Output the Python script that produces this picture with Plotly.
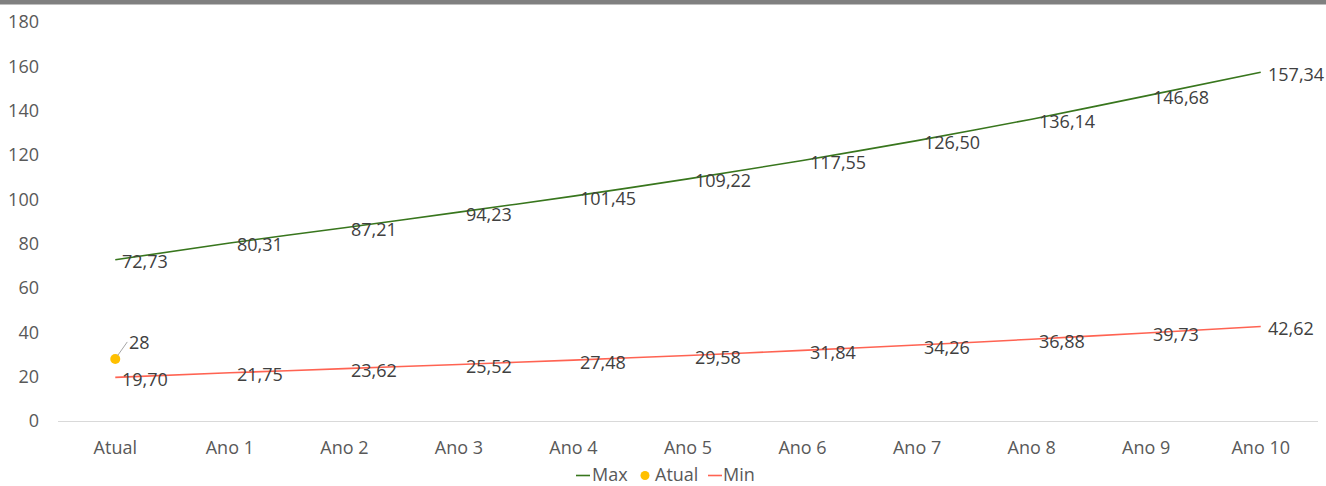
import plotly.graph_objects as go

categories = ["Atual", "Ano 1", "Ano 2", "Ano 3", "Ano 4", "Ano 5",
              "Ano 6", "Ano 7", "Ano 8", "Ano 9", "Ano 10"]
max_values = [72.73, 80.31, 87.21, 94.23, 101.45, 109.22,
              117.55, 126.50, 136.14, 146.68, 157.34]
min_values = [19.70, 21.75, 23.62, 25.52, 27.48, 29.58,
              31.84, 34.26, 36.88, 39.73, 42.62]
atual_value = [28]
y_ticks = [0, 20, 40, 60, 80, 100, 120, 140, 160, 180]

FONT = "Open Sans"
FS = 18
TEXT = "#404040"
AXIS_TEXT = "#595959"
MAX_COLOR = "#38761d"
MIN_COLOR = "#ff6352"
ATUAL_COLOR = "#ffc000"

# plot area geometry in pixels (used for the legend row below the axis)
L, R, T, B, W, H = 58, 8, 22, 65, 1326, 486
PW, PH = W - L - R, H - T - B


def px_x(p):
    return (p - L) / PW


def px_y(p):
    return (H - B - p) / PH


def br(v):
    return f"{v:.2f}".replace(".", ",")


fig = go.Figure()

fig.add_trace(go.Scatter(
    x=categories, y=max_values, name="Max", mode="lines",
    line=dict(color=MAX_COLOR, width=1.6, shape="spline", smoothing=0.5),
    cliponaxis=False, showlegend=False,
))
fig.add_trace(go.Scatter(
    x=categories[:1], y=atual_value, name="Atual",
    mode="markers", marker=dict(color=ATUAL_COLOR, size=10),
    cliponaxis=False, showlegend=False,
))
fig.add_trace(go.Scatter(
    x=categories, y=min_values, name="Min", mode="lines",
    line=dict(color=MIN_COLOR, width=1.6, shape="spline", smoothing=0.5),
    cliponaxis=False, showlegend=False,
))

# data labels to the right of each point
for series in (max_values, min_values):
    for cat, val in zip(categories, series):
        fig.add_annotation(
            x=cat, y=val, text=br(val), xref="x", yref="y", showarrow=False,
            xanchor="left", yanchor="middle", xshift=5, yshift=-1.5,
            font=dict(family=FONT, size=FS, color=TEXT),
        )

# label for the current value with a leader line
fig.add_annotation(
    x=categories[0], y=atual_value[0], text=str(atual_value[0]),
    xref="x", yref="y", showarrow=True, arrowhead=0, arrowwidth=1,
    arrowcolor="#a6a6a6", ax=12, ay=-17, xanchor="left", yanchor="middle",
    standoff=4, font=dict(family=FONT, size=FS, color=TEXT),
)

# legend row: short line keys, a dot key and the series names
key_y = 475.5
ly = px_y(key_y)
for x0, x1, color in ((576, 590, MAX_COLOR), (708, 722, MIN_COLOR)):
    fig.add_shape(type="line", xref="paper", yref="paper",
                  x0=px_x(x0), x1=px_x(x1), y0=ly, y1=ly,
                  line=dict(color=color, width=1.6))
fig.add_shape(type="circle", xref="paper", yref="paper",
              x0=px_x(640.5), x1=px_x(649.5), y0=px_y(key_y + 4.5), y1=px_y(key_y - 4.5),
              fillcolor=ATUAL_COLOR, line=dict(width=0))
for left, name in ((590, "Max"), (653, "Atual"), (721, "Min")):
    fig.add_annotation(
        text=name, xref="paper", yref="paper", x=px_x(left), y=px_y(473.5),
        xanchor="left", yanchor="middle", showarrow=False,
        font=dict(family=FONT, size=FS, color=AXIS_TEXT),
    )

# thin grey band across the top edge
fig.add_shape(type="rect", xref="paper", yref="paper",
              x0=-0.06, x1=1.02, y0=px_y(4.5), y1=1.07,
              fillcolor="#808080", line=dict(width=0), layer="above")

fig.update_layout(
    width=W, height=H,
    margin=dict(l=L, r=R, t=T, b=B),
    paper_bgcolor="white", plot_bgcolor="white",
    font=dict(family=FONT, size=FS, color=AXIS_TEXT),
    showlegend=False,
    xaxis=dict(type="category", categoryarray=categories, range=[-0.5, 10.5],
               showgrid=False, showline=True, linecolor="#d9d9d9", linewidth=1,
               ticks="", ticklabelstandoff=10, tickfont=dict(size=FS, color=AXIS_TEXT),
               zeroline=False),
    yaxis=dict(range=[0, 180], tickvals=y_ticks, showgrid=False, showline=False,
               zeroline=False, ticks="", ticklabelstandoff=18,
               tickfont=dict(size=FS, color=AXIS_TEXT)),
)

fig.write_html("out.html")
